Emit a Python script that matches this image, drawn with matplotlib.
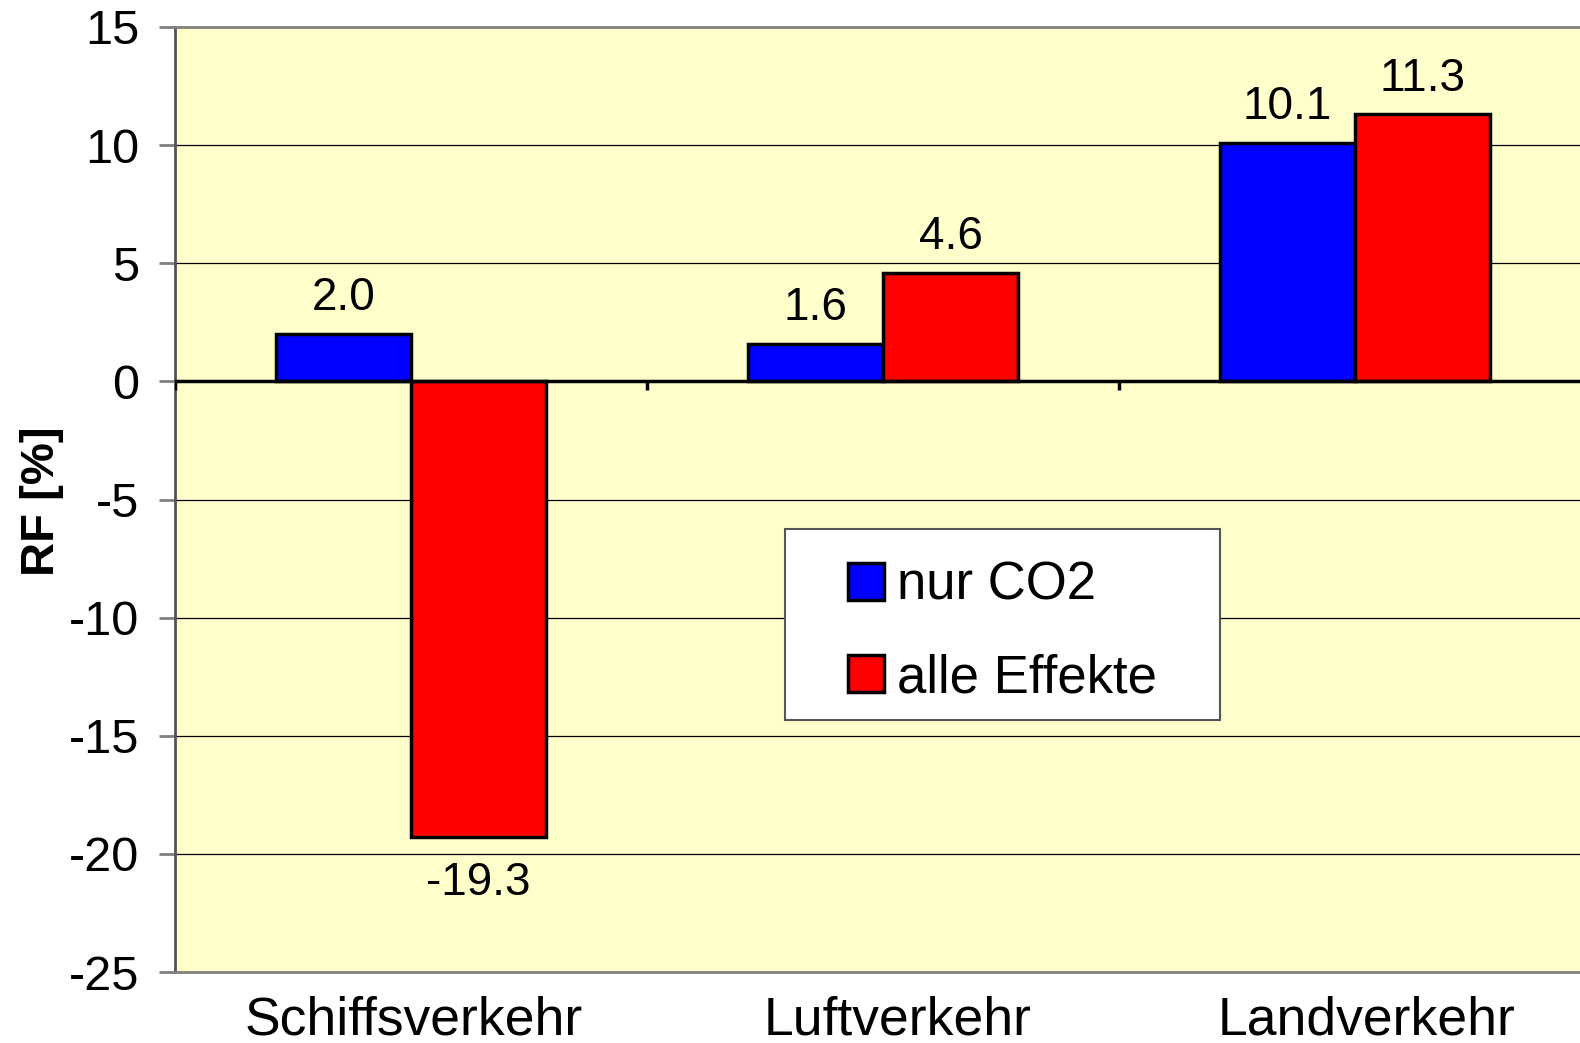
import matplotlib
matplotlib.use("Agg")
import matplotlib.pyplot as plt
from matplotlib.patches import Rectangle
from matplotlib.transforms import ScaledTranslation
import numpy as np

categories = ["Schiffsverkehr", "Luftverkehr", "Landverkehr"]
series_names = ["nur CO2", "alle Effekte"]
nur_co2 = [2.0, 1.6, 10.1]
alle_effekte = [-19.3, 4.6, 11.3]
yticks = [15, 10, 5, 0, -5, -10, -15, -20, -25]

plt.rcParams['font.family'] = ['Liberation Sans', 'DejaVu Sans']
plt.rcParams['axes.unicode_minus'] = False

W, H = 1580, 1043
fig = plt.figure(figsize=(W/100, H/100), dpi=100)
left, right, top, bottom = 175, 1580, 27, 972
ax = fig.add_axes([left/W, 1 - bottom/H, (right-left)/W, (bottom-top)/H])
ax.set_facecolor('#FFFFCC')

cat_px = 472.0
xmax = -0.5 + (right - left) / cat_px
ax.set_xlim(-0.5, xmax)
ax.set_ylim(-25, 15)

x = np.arange(len(categories))
bw = 0.286
ax.set_yticks(yticks)
ax.yaxis.grid(True, color='black', lw=0.9)
ax.set_axisbelow(True)

b1 = ax.bar(x - bw/2, nur_co2, bw, color='#0000FF', edgecolor='black', lw=2.5, label=series_names[0], zorder=3)
b2 = ax.bar(x + bw/2, alle_effekte, bw, color='#FF0000', edgecolor='black', lw=2.5, label=series_names[1], zorder=3)

ax.axhline(0, color='black', lw=2.5, zorder=4)
bounds = np.arange(len(categories)) - 0.5
ax.vlines(bounds, -0.35, 0, color='black', lw=2.5, zorder=4)

for bars, vals in ((b1, nur_co2), (b2, alle_effekte)):
    for r, v in zip(bars, vals):
        cx = r.get_x() + r.get_width()/2
        if v >= 0:
            ax.annotate(f"{v:.1f}", (cx, v), xytext=(0, 10), textcoords='offset points',
                        ha='center', va='bottom', fontsize=33, zorder=5)
        else:
            ax.annotate(f"{v:.1f}", (cx, v), xytext=(0, -17), textcoords='offset points',
                        ha='center', va='top', fontsize=33, zorder=5)

for s in ['top', 'bottom']:
    ax.spines[s].set_color('#808080')
    ax.spines[s].set_linewidth(2)
ax.spines['left'].set_color('#555555')
ax.spines['left'].set_linewidth(2)
ax.spines['right'].set_visible(False)

ax.set_xticks(x)
ax.set_xticklabels(categories, fontsize=38.5)
ax.tick_params(axis='x', length=0, pad=17)
ax.tick_params(axis='y', labelsize=35, length=11.5, width=2, color='#808080', pad=14)
for lbl, dx in zip(ax.get_xticklabels(), [3, 15, 12]):
    lbl.set_transform(lbl.get_transform() + ScaledTranslation(dx/100, 0, fig.dpi_scale_trans))

fig.text(42/W, 1 - 501/H, "RF [%]", rotation=90, ha='center', va='center',
         fontsize=34, fontweight='bold')

# legend box
bx0, bx1, by0, by1 = 785, 1220, 529, 720
ax.add_patch(Rectangle(((bx0-left)/(right-left), 1-(by1-top)/(bottom-top)),
                       (bx1-bx0)/(right-left), (by1-by0)/(bottom-top),
                       transform=ax.transAxes, facecolor='white', edgecolor='#555555',
                       lw=1.5, zorder=6))
leg = ax.legend(loc='center left', bbox_to_anchor=((848-left)/(right-left), 1-(632-top)/(bottom-top)),
                fontsize=38, frameon=False, handlelength=0.68, handleheight=0.68,
                handletextpad=0.25, borderpad=0, labelspacing=0.8, borderaxespad=0)
leg.set_zorder(7)

fig.savefig("out.png", dpi=100)
